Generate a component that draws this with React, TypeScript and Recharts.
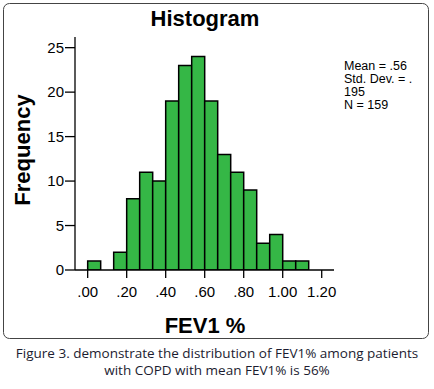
import React from 'react';
import { ComposedChart, Bar, XAxis, YAxis } from 'recharts';

const binStarts = [0, 1, 2, 3, 4, 5, 6, 7, 8, 9, 10, 11, 12, 13, 14, 15, 16];
const binWidth = 1 / 15;
const counts = [1, 0, 2, 8, 11, 10, 19, 23, 24, 19, 13, 11, 9, 3, 4, 1, 1];
const xTicks = [0, 0.2, 0.4, 0.6, 0.8, 1.0, 1.2];
const yTicks = [0, 5, 10, 15, 20, 25];
const statsLines = ['Mean = .56', 'Std. Dev. = .', '195', 'N = 159'];
const captionLines = [
  'Figure 3. demonstrate the distribution of FEV1% among patients',
  'with COPD with mean FEV1% is 56%',
];

const data = binStarts.map((b, i) => ({ x: (b + 0.5) * binWidth, count: counts[i] }));

const fmtX = (v: number) => {
  const s = v.toFixed(2);
  return s.startsWith('0') ? s.slice(1) : s;
};

const ARIAL = 'Liberation Sans, Arial, sans-serif';

export default function App() {
  return (
    <div style={{ position: 'absolute', left: 0, top: 0, width: 434, height: 389, background: '#fff' }}>
      <svg width={434} height={389} style={{ position: 'absolute', left: 0, top: 0 }}>
        <rect x={3.5} y={3.5} width={425} height={335} rx={6} ry={6} fill="#fff" stroke="#444" strokeWidth={1} />
        <text x={205} y={26} textAnchor="middle" fontFamily={ARIAL} fontWeight="bold" fontSize={22} fill="#000">Histogram</text>
        <text x={0} y={0} transform="translate(30,150) rotate(-90)" textAnchor="middle" fontFamily={ARIAL} fontWeight="bold" fontSize={22} fill="#000">Frequency</text>
        <text x={205} y={333} textAnchor="middle" fontFamily={ARIAL} fontWeight="bold" fontSize={22} fill="#000">FEV1 %</text>
        {statsLines.map((s, i) => (
          <text key={i} x={344} y={70 + i * 13} fontFamily={ARIAL} fontSize={12.5} fill="#000">{s}</text>
        ))}
        {captionLines.map((s, i) => (
          <text key={i} x={217} y={358 + i * 17} textAnchor="middle" fontFamily="Open Sans, Noto Sans, sans-serif" fontSize={13.5} fill="#1c1c30">{s}</text>
        ))}
      </svg>
      <div style={{ position: 'absolute', left: 0, top: 0 }}>
        <ComposedChart width={434} height={340} data={data} margin={{ top: 37, right: 100, bottom: 40, left: 35 }}>
          <XAxis
            dataKey="x"
            type="number"
            domain={[-0.065, 1.263]}
            ticks={xTicks}
            tickFormatter={fmtX}
            allowDataOverflow
            height={30}
            tickSize={8}
            tickMargin={8}
            axisLine={{ stroke: '#000', strokeWidth: 1.3 }}
            tickLine={{ stroke: '#000', strokeWidth: 1.3 }}
            tick={{ fill: '#000', fontSize: 15, fontFamily: ARIAL }}
          />
          <YAxis
            type="number"
            domain={[0, 26.2]}
            ticks={yTicks}
            allowDataOverflow
            width={40}
            tickSize={10}
            tickMargin={1}
            axisLine={{ stroke: '#000', strokeWidth: 1.3 }}
            tickLine={{ stroke: '#000', strokeWidth: 1.3 }}
            tick={{ fill: '#000', fontSize: 15, fontFamily: ARIAL }}
          />
          <Bar dataKey="count" barSize={13} fill="#35b746" stroke="#000" strokeWidth={1.5} isAnimationActive={false} />
        </ComposedChart>
      </div>
    </div>
  );
}
